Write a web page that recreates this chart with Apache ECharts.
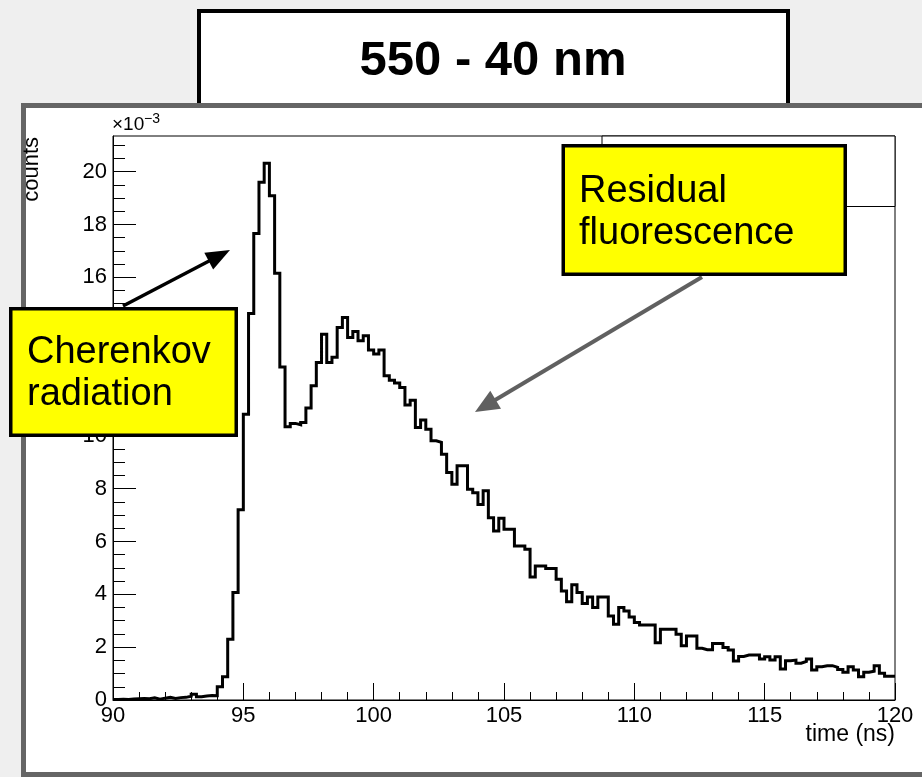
<!DOCTYPE html>
<html>
<head>
<meta charset="utf-8">
<script src="https://cdn.jsdelivr.net/npm/echarts@6/dist/echarts.min.js"></script>
<style>
  html, body { margin: 0; padding: 0; background: #efefef; }
  #chart { width: 922px; height: 777px; }
</style>
</head>
<body>
<div id="chart"></div>
<script>
// Time histogram: 150 bins of 0.2 ns from 90 ns to 120 ns (counts in units of 1e-3)
const binStart = 90;
const binWidth = 0.2;
const counts = [
  // 90.0 - 93.8 ns
  0.02, 0.03, 0.02, 0.04, 0.05, 0.06, 0.05, 0.08, 0.03, 0.07,
  0.10, 0.06, 0.09, 0.10, 0.14, 0.22, 0.12, 0.15, 0.17, 0.16,
  // 94.0 - 104.8 ns
  0.50, 0.88, 2.30, 4.07, 7.20,
  10.82, 14.63, 17.66, 19.60, 20.32,
  19.09, 16.15, 12.61, 10.34, 10.47,
  10.42, 10.50, 11.05, 11.90, 12.78,
  13.85, 12.78, 12.97, 14.10, 14.48,
  13.72, 13.95, 13.60, 13.79, 13.25,
  13.10, 13.25, 12.27, 12.10, 12.00,
  11.83, 11.17, 11.35, 10.32, 10.60,
  10.25, 9.81, 9.75, 9.30, 8.61,
  8.17, 8.87, 8.87, 7.98, 7.85,
  7.40, 7.92, 6.90, 6.40, 6.88,
  // 105.0 - 119.8 ns
  6.46, 6.46, 5.83, 5.83, 5.71, 4.66, 5.07, 5.07, 4.98, 4.98,
  4.57, 4.13, 3.72, 4.36, 4.07, 3.65, 3.90, 3.50, 3.90, 3.90,
  3.18, 2.87, 3.50, 3.37, 3.14, 2.93, 2.84, 2.84, 2.84, 2.17,
  2.68, 2.68, 2.68, 2.49, 2.05, 2.42, 2.42, 1.96, 1.90, 1.90,
  2.14, 2.14, 1.99, 1.89, 1.48, 1.65, 1.70, 1.70, 1.70, 1.55,
  1.64, 1.51, 1.64, 1.17, 1.49, 1.51, 1.39, 1.46, 1.55, 1.14,
  1.26, 1.30, 1.30, 1.24, 1.15, 1.05, 1.26, 1.14, 0.88, 1.05,
  1.09, 1.30, 1.01, 0.90, 0.90
];

const xRange = [90, 120];
const xTickStep = 5;
const yRange = [0, 21.35];
const yTicks = [0, 2, 4, 6, 8, 10, 12, 14, 16, 18, 20];
const yMinorTicks = [
  0.5, 1, 1.5, 2.5, 3, 3.5, 4.5, 5, 5.5, 6.5, 7, 7.5, 8.5, 9, 9.5,
  10.5, 11, 11.5, 12.5, 13, 13.5, 14.5, 15, 15.5, 16.5, 17, 17.5,
  18.5, 19, 19.5, 20.5, 21
];

const titleText = '550 - 40 nm';
const xTitle = 'time (ns)';
const yTitle = 'counts';
const noteCherenkov = ['Cherenkov', 'radiation'];
const noteResidual = ['Residual', 'fluorescence'];

// Step outline: one point at each bin's low edge, plus the closing upper edge
const histPoints = counts.map((c, i) => [binStart + i * binWidth, c]);
histPoints.push([binStart + counts.length * binWidth, counts[counts.length - 1]]);

const FONT = '"Liberation Sans", Arial, Helvetica, sans-serif';
const NOTE_FONT = '38px ' + FONT;

function arrow(x0, y0, x1, y1, color, lw, headLen, headHalf, z) {
  const dx = x1 - x0, dy = y1 - y0;
  const len = Math.sqrt(dx * dx + dy * dy);
  const ux = dx / len, uy = dy / len;
  const bx = x1 - ux * headLen, by = y1 - uy * headLen;
  const px = -uy, py = ux;
  return [
    { type: 'line', z: z, silent: true,
      shape: { x1: x0, y1: y0, x2: bx + ux * 2, y2: by + uy * 2 },
      style: { stroke: color, lineWidth: lw } },
    { type: 'polygon', z: z, silent: true,
      shape: { points: [[x1, y1], [bx + px * headHalf, by + py * headHalf], [bx - px * headHalf, by - py * headHalf]] },
      style: { fill: color } }
  ];
}

function noteText(text, x, y) {
  return { type: 'text', z: 10, silent: true,
    style: { text: text, x: x, y: y, textAlign: 'left', textVerticalAlign: 'bottom',
             font: NOTE_FONT, fill: '#000' } };
}

const chart = echarts.init(document.getElementById('chart'), null, { renderer: 'canvas' });

const option = {
  animation: false,
  backgroundColor: '#efefef',
  grid: {
    left: 113, right: 27, top: 136, bottom: 77,
    show: true, borderColor: '#000', borderWidth: 1,
    backgroundColor: 'transparent', z: 5
  },
  xAxis: {
    type: 'value', min: xRange[0], max: xRange[1], interval: xTickStep, z: 5,
    axisLine: { show: true, onZero: false, lineStyle: { color: '#000', width: 1 } },
    axisTick: { show: true, inside: true, length: 17, lineStyle: { color: '#000', width: 1 } },
    minorTick: { show: true, splitNumber: 5, length: 8, lineStyle: { color: '#000', width: 1 } },
    axisLabel: { margin: 5, fontSize: 22, fontFamily: FONT, color: '#000', showMinLabel: true, showMaxLabel: true },
    splitLine: { show: false }, minorSplitLine: { show: false }
  },
  yAxis: [
    {
      type: 'value', min: yRange[0], max: yRange[1], interval: 2, z: 5,
      axisLine: { show: true, onZero: false, lineStyle: { color: '#000', width: 1 } },
      axisTick: { show: true, inside: true, length: 23, customValues: yTicks, lineStyle: { color: '#000', width: 1 } },
      axisLabel: { margin: 6, fontSize: 22, fontFamily: FONT, color: '#000', customValues: yTicks },
      splitLine: { show: false }
    },
    {
      type: 'value', min: yRange[0], max: yRange[1], position: 'left', z: 5,
      axisLine: { show: false },
      axisTick: { show: true, inside: true, length: 12, customValues: yMinorTicks, lineStyle: { color: '#000', width: 1 } },
      axisLabel: { show: false },
      splitLine: { show: false }
    }
  ],
  series: [{
    type: 'line',
    data: histPoints,
    step: 'end',
    yAxisIndex: 0,
    showSymbol: false,
    symbol: 'none',
    clip: true,
    z: 5,
    lineStyle: { color: '#000', width: 3, join: 'miter' }
  }],
  graphic: [
    // title box, partly tucked behind the canvas panel
    { type: 'rect', z: 0, silent: true,
      shape: { x: 199, y: 11, width: 589, height: 120 },
      style: { fill: '#fff', stroke: '#000', lineWidth: 4 } },
    { type: 'text', z: 0, silent: true,
      style: { text: titleText, x: 493, y: 61, textAlign: 'center', textVerticalAlign: 'middle',
               font: 'bold 49px ' + FONT, fill: '#000' } },
    // canvas panel
    { type: 'rect', z: 1, silent: true,
      shape: { x: 23.5, y: 105.5, width: 1000, height: 669 },
      style: { fill: '#fff', stroke: '#656565', lineWidth: 5 } },
    // stats box corner
    { type: 'rect', z: 6, silent: true,
      shape: { x: 602, y: 136, width: 293, height: 70.5 },
      style: { fill: '#fff', stroke: '#000', lineWidth: 1 } },
    // axis titles
    { type: 'text', z: 6, silent: true, x: 32, y: 137, rotation: Math.PI / 2,
      style: { text: yTitle, x: 0, y: 0, textAlign: 'right', textVerticalAlign: 'middle',
               font: '22px ' + FONT, fill: '#000' } },
    { type: 'text', z: 6, silent: true,
      style: { text: xTitle, x: 895, y: 735, textAlign: 'right', textVerticalAlign: 'middle',
               font: '23px ' + FONT, fill: '#000' } },
    // exponent
    { type: 'text', z: 6, silent: true,
      style: { text: '×10', x: 112, y: 134, textAlign: 'left', textVerticalAlign: 'bottom',
               font: '19px ' + FONT, fill: '#000' } },
    { type: 'text', z: 6, silent: true,
      style: { text: '−3', x: 144, y: 126, textAlign: 'left', textVerticalAlign: 'bottom',
               font: '14px ' + FONT, fill: '#000' } },
    // arrows
    ...arrow(123, 306, 230, 250, '#000', 3.5, 24, 9.5, 9),
    ...arrow(702, 277, 475, 412, '#606060', 4, 24, 10.5, 9),
    // note boxes
    { type: 'rect', z: 10, silent: true,
      shape: { x: 10.75, y: 308.75, width: 225.5, height: 126.5 },
      style: { fill: '#ffff00', stroke: '#000', lineWidth: 3.5 } },
    noteText(noteCherenkov[0], 27, 372),
    noteText(noteCherenkov[1], 27, 414),
    { type: 'rect', z: 10, silent: true,
      shape: { x: 563.25, y: 145.75, width: 282, height: 128.5 },
      style: { fill: '#ffff00', stroke: '#000', lineWidth: 3.5 } },
    noteText(noteResidual[0], 579, 211),
    noteText(noteResidual[1], 579, 253)
  ]
};

chart.setOption(option);
</script>
</body>
</html>
